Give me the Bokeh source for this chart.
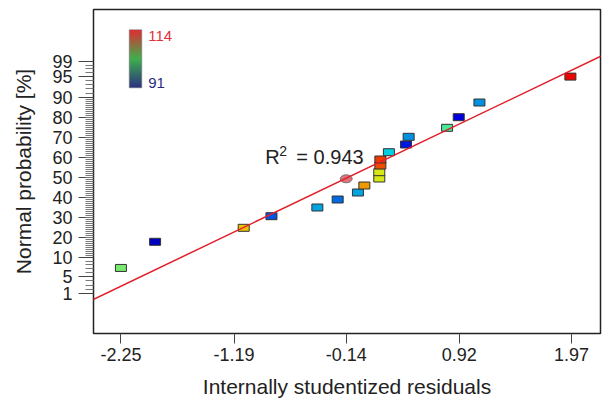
import numpy as np
from bokeh.plotting import figure
from bokeh.models import Range1d, FixedTicker, Label, Slope, LinearColorMapper, ColumnDataSource
from bokeh.transform import linear_cmap
from bokeh.embed import file_html
from bokeh.resources import INLINE

# ---------------- data ----------------
residuals = [-2.25, -1.93, -1.10, -0.84, -0.41, -0.22, -0.03, 0.03, 0.17, 0.17,
             0.18, 0.18, 0.26, 0.42, 0.445, 0.805, 0.914, 1.108, 1.96]
probability = [7.2, 17.7, 24.7, 30.5, 34.85, 38.85, 42.35, 45.85, 49.35, 52.5,
               55.85, 58.85, 62.5, 66.35, 70.2, 74.7, 80.0, 87.35, 94.9]
response = [102.5, 93.0, 106.3, 96.0, 98.0, 96.5, 98.0, 107.3, 104.8, 104.8,
            109.2, 109.6, 99.0, 94.5, 97.5, 101.4, 93.8, 97.5, 111.0]

highlight_residual = [-0.14]
highlight_probability = [49.2]

x_ticks = [-2.25, -1.19, -0.14, 0.92, 1.97]
x_tick_labels = ["-2.25", "-1.19", "-0.14", "0.92", "1.97"]
prob_ticks = [1, 5, 10, 20, 30, 40, 50, 60, 70, 80, 90, 95, 99]
# position of each probability tick on the plot's (non-linear) probability scale
prob_scale = [-8.3, 0.4, 10, 20, 30, 40, 50, 60, 70, 80, 90, 100.5, 107.9]
prob_minor = [2, 3, 4, 6, 7, 8, 9] + list(range(11, 90)) + [91, 92, 93, 94, 96, 97, 98]

fit_slope = 25.58       # fitted line on the scale
fit_intercept = 53.05
r_squared = 0.943
color_low, color_high = 91, 114

# ---------------- helpers ----------------
def to_scale(p):
    return np.interp(p, prob_ticks, prob_scale)

t = np.linspace(0, 1, 256)
r = np.clip(1.5 - np.abs(4 * t - 3), 0, 1)
g = np.clip(1.5 - np.abs(4 * t - 2), 0, 1)
b = np.clip(1.5 - np.abs(4 * t - 1), 0, 1)
jet = ["#%02x%02x%02x" % (int(rr * 238), int(gg * 232), int(bb * 225)) for rr, gg, bb in zip(r, g, b)]

stops = [(0.0, (45, 48, 130)), (0.5, (62, 176, 78)), (1.0, (226, 44, 50))]
bar_pal = []
for tt in np.linspace(0, 1, 128):
    for (t0, c0), (t1, c1) in zip(stops[:-1], stops[1:]):
        if t0 <= tt <= t1:
            f = (tt - t0) / (t1 - t0)
            c = [int(c0[i] + f * (c1[i] - c0[i])) for i in range(3)]
            break
    bar_pal.append("#%02x%02x%02x" % tuple(c))

FONT = "Liberation Sans"

p = figure(width=608, height=402, output_backend="svg", toolbar_location=None,
           x_range=Range1d(-2.507, 2.242), y_range=Range1d(-28.15, 133.85),
           min_border_left=93, min_border_right=8, min_border_top=9, min_border_bottom=69)
p.grid.visible = False
p.outline_line_color = "#222222"
p.outline_line_width = 1.5
p.background_fill_color = "white"
p.border_fill_color = "white"

# x axis
xa = p.xaxis[0]
xa.ticker = FixedTicker(ticks=x_ticks)
xa.major_label_overrides = {float(v): s for v, s in zip(x_ticks, x_tick_labels)}
xa.axis_label = "Internally studentized residuals"
xa.major_tick_out = 10
xa.major_tick_in = 0
xa.minor_tick_out = 0
xa.minor_tick_in = 0
xa.major_label_standoff = 4
xa.axis_label_standoff = 11

# y axis
ya = p.yaxis[0]
ya.ticker = FixedTicker(ticks=prob_scale, minor_ticks=list(to_scale(prob_minor)))
ya.major_label_overrides = {float(s): str(v) for s, v in zip(prob_scale, prob_ticks)}
ya.axis_label = "Normal probability [%]"
ya.major_tick_out = 15
ya.major_tick_in = 0
ya.minor_tick_out = 8
ya.minor_tick_in = 0
ya.major_label_standoff = 6
ya.axis_label_standoff = 14
ya.minor_tick_line_color = "#777777"

for ax in (xa, ya):
    ax.axis_line_color = None
    ax.major_tick_line_color = "#444444"
    ax.major_label_text_font = FONT
    ax.major_label_text_font_size = "18px"
    ax.major_label_text_color = "#222222"
    ax.axis_label_text_font = FONT
    ax.axis_label_text_font_size = "21px"
    ax.axis_label_text_font_style = "normal"
    ax.axis_label_text_color = "#222222"

# fitted line
p.add_layout(Slope(gradient=fit_slope, y_intercept=fit_intercept,
                   line_color="#e0202a", line_width=1.5))

# points
src = ColumnDataSource(dict(x=residuals, y=to_scale(probability), v=response))
p.rect("x", "y", source=src, width=11, height=7, width_units="screen", height_units="screen",
       fill_color=linear_cmap("v", jet, color_low, color_high), line_color="#333333", line_width=1)
p.ellipse(highlight_residual, list(to_scale(highlight_probability)), width=12, height=8,
          width_units="screen", height_units="screen",
          fill_color="#d85a66", fill_alpha=0.85, line_color="#777777", line_width=1)

# R^2 label
p.add_layout(Label(x=-0.898, y=60.35, text="R", text_font=FONT, text_font_size="20px",
                   text_color="#222222", text_baseline="alphabetic"))
p.add_layout(Label(x=-0.766, y=63.35, text="2", text_font=FONT, text_font_size="14px",
                   text_color="#222222", text_baseline="alphabetic"))
p.add_layout(Label(x=-0.607, y=60.35, text="= %.3f" % r_squared, text_font=FONT,
                   text_font_size="20px", text_color="#222222", text_baseline="alphabetic"))

# colour bar legend
grad = np.linspace(color_low, color_high, 128).reshape(128, 1)
p.image(image=[grad], x=-2.172, y=94.7, dw=0.117, dh=29.0,
        color_mapper=LinearColorMapper(palette=bar_pal, low=color_low, high=color_high))
p.quad(left=[-2.172], right=[-2.055], bottom=[94.7], top=[123.7],
       fill_color=None, line_color="#777777", line_width=0.6)
p.add_layout(Label(x=-1.994, y=120.6, text=str(color_high), text_font=FONT, text_font_size="15px",
                   text_color="#e0303a", text_baseline="middle"))
p.add_layout(Label(x=-1.994, y=97.1, text=str(color_low), text_font=FONT, text_font_size="15px",
                   text_color="#2a2a80", text_baseline="middle"))

open("out.html", "w").write(file_html(p, INLINE))
